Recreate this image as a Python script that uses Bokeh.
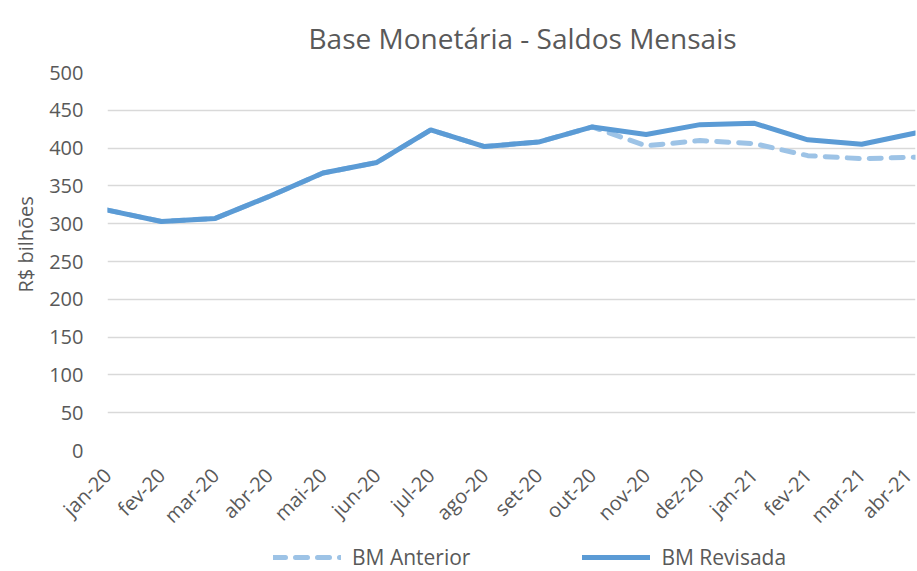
import math
from bokeh.plotting import figure
from bokeh.models import Range1d, FixedTicker, Legend, LegendItem, Title
from bokeh.layouts import column
from bokeh.embed import file_html
from bokeh.resources import INLINE

months = ["jan-20", "fev-20", "mar-20", "abr-20", "mai-20", "jun-20", "jul-20", "ago-20",
          "set-20", "out-20", "nov-20", "dez-20", "jan-21", "fev-21", "mar-21", "abr-21"]
bm_revisada = [318, 303, 307, 336, 367, 381, 424, 402, 408, 428, 418, 431, 433, 411, 405, 420]
bm_anterior = [318, 303, 307, 336, 367, 381, 424, 402, 408, 428, 403, 410, 406, 390, 386, 388]
y_ticks = [0, 50, 100, 150, 200, 250, 300, 350, 400, 450, 500]

FONT = "Open Sans"
GREY = "#595959"
C_ANT = "#9DC3E6"
C_REV = "#5B9BD5"
DASH = "12 10"

xs = list(range(len(months)))
n = len(months) - 1

p = figure(width=917, height=541, output_backend="svg", toolbar_location=None,
           x_range=Range1d(0, n), y_range=Range1d(0, 500),
           min_border_left=107, min_border_right=2, min_border_top=72, min_border_bottom=90)

p.title.text = "Base Monetária - Saldos Mensais"
p.title.align = "left"
p.title.offset = 201
p.title.standoff = 32
p.title.text_font = FONT
p.title.text_font_size = "28px"
p.title.text_font_style = "normal"
p.title.text_color = GREY

p.line(xs, bm_anterior, line_color=C_ANT, line_width=5, line_dash=DASH,
       line_cap="round", line_join="round")
p.line(xs, bm_revisada, line_color=C_REV, line_width=5,
       line_cap="round", line_join="round")

p.xaxis.ticker = FixedTicker(ticks=xs)
p.xaxis.major_label_overrides = {i: m for i, m in enumerate(months)}
p.xaxis.major_label_orientation = math.pi / 4
p.yaxis.ticker = FixedTicker(ticks=y_ticks)

for ax in (p.xaxis[0], p.yaxis[0]):
    ax.axis_line_color = None
    ax.major_tick_line_color = None
    ax.minor_tick_line_color = None
    ax.major_tick_out = 0
    ax.major_tick_in = 0
    ax.major_label_text_font = FONT
    ax.major_label_text_color = GREY

p.xaxis.major_label_text_font_size = "20px"
p.yaxis.major_label_text_font_size = "20px"
p.yaxis.major_label_standoff = 24
p.xaxis.major_label_standoff = 21

ylab = Title(text="R$ bilhões", align="left", text_font=FONT, text_font_size="20px",
             text_font_style="normal", text_color=GREY, offset=158, standoff=16)
p.add_layout(ylab, "left")

p.xgrid.grid_line_color = None
p.ygrid.grid_line_color = "#D9D9D9"
p.ygrid.grid_line_width = 1.5
p.outline_line_color = None

# legend strip below the chart (its lines use the same series, outside the strip's view)
lg = figure(width=917, height=30, output_backend="svg", toolbar_location=None,
            x_range=Range1d(-100, -99), y_range=Range1d(-100, -99),
            x_axis_type=None, y_axis_type=None,
            min_border_left=0, min_border_right=0, min_border_top=0, min_border_bottom=0)
lg.outline_line_color = None
l_ant = lg.line(xs, bm_anterior, line_color=C_ANT, line_width=5, line_dash=DASH, line_cap="round")
l_rev = lg.line(xs, bm_revisada, line_color=C_REV, line_width=5, line_cap="round")

legend = Legend(items=[LegendItem(label="BM Anterior", renderers=[l_ant]),
                       LegendItem(label="BM Revisada", renderers=[l_rev])],
                orientation="horizontal", location=(166, 0),
                border_line_color=None, background_fill_alpha=0,
                glyph_width=68, glyph_height=20, label_standoff=11, spacing=112,
                padding=0, margin=0,
                label_text_font=FONT, label_text_font_size="21px", label_text_color=GREY)
lg.add_layout(legend)

layout = column(p, lg, spacing=0)

open("out.html", "w").write(file_html(layout, INLINE))
